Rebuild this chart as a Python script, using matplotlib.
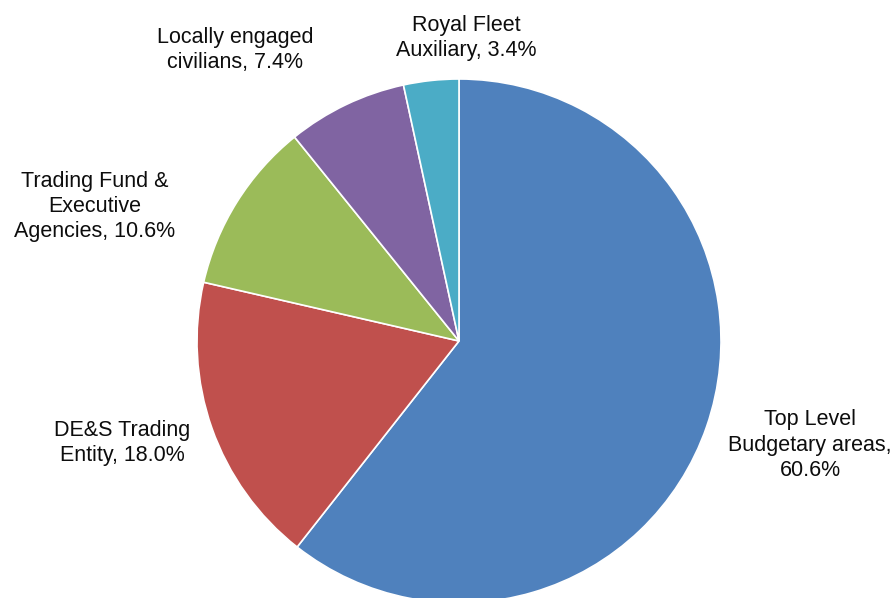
import matplotlib.pyplot as plt

# Civilian personnel by area
categories = ['Top Level\nBudgetary areas,', 'DE&S Trading\nEntity,', 'Trading Fund &\nExecutive\nAgencies,',
              'Locally engaged\ncivilians,', 'Royal Fleet\nAuxiliary,']
shares = [60.6, 18.0, 10.6, 7.4, 3.4]
colors = ['#4F81BD', '#C0504D', '#9BBB59', '#8064A2', '#4BACC6']

# label anchor points (figure pixels, y from top) and joining style
label_pos = [(810, 445), (122, 443), (95, 207), (235, 50), (466, 38)]
label_sep = ['\n', ' ', ' ', ' ', ' ']

plt.rcParams['font.family'] = ['Liberation Sans', 'DejaVu Sans']

W, H = 895, 598
fig = plt.figure(figsize=(W / 100, H / 100), dpi=100)
ax = fig.add_axes([0, 0, 1, 1])
ax.set_xlim(0, W)
ax.set_ylim(0, H)
ax.set_aspect('equal')
ax.axis('off')

ax.pie(shares, colors=colors, startangle=90, counterclock=False,
       center=(459, H - 341), radius=262,
       wedgeprops=dict(edgecolor='white', linewidth=1.2))
ax.set_xlim(0, W)
ax.set_ylim(0, H)

for cat, val, (px, py), sep in zip(categories, shares, label_pos, label_sep):
    ax.text(px, H - py, f'{cat}{sep}{val:.1f}%', ha='center', va='center',
            fontsize=15.5, color='#0d0d0d', linespacing=1.25)

fig.savefig('out.png', dpi=100)
